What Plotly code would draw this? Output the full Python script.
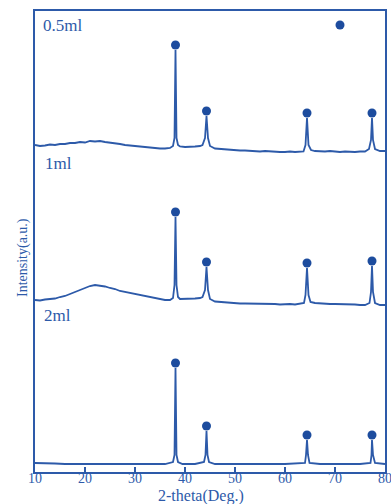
import plotly.graph_objects as go

# XRD patterns of the three samples (2-theta in degrees, intensity in a.u., stacked)
theta_05 = [10, 11, 12, 13, 14, 15, 16, 17, 18, 19, 20, 21, 22, 23, 24, 25, 26, 27, 28, 29, 30,
            31, 32, 33, 34, 35, 36, 37, 37.6, 37.9, 38.1, 38.3, 38.6, 39, 40, 41, 42, 43, 43.5,
            44.0, 44.3, 44.6, 45, 46, 47, 48, 49, 50, 51, 52, 53, 54, 55, 56, 57, 58, 59, 60,
            61, 62, 63, 63.7, 64.1, 64.4, 64.7, 65.2, 66, 67, 68, 69, 70, 71, 72, 73, 74, 75,
            76, 76.8, 77.2, 77.4, 77.6, 78, 79, 80]
inten_05 = [327, 326, 326.5, 327.5, 327, 328, 328, 329, 329, 330, 329.5, 331, 330.5, 331, 330,
            329.5, 328.5, 328, 327, 326.5, 326, 325, 325, 324.5, 324, 323.5, 323.5, 324, 326,
            334, 422, 334, 327, 325.5, 325, 325, 325.5, 326, 327, 334, 356, 334, 326, 323.5,
            323, 322.5, 322, 322, 321.5, 321.5, 321, 321, 320.5, 321, 320.5, 320.5, 320, 320,
            320.5, 320, 320, 320.5, 327, 354, 327, 322, 321, 320.5, 320.5, 321, 320.5, 320,
            320.5, 320, 320, 320.5, 320.5, 323, 332, 354, 332, 323, 321, 321]

theta_1 = [10, 11, 12, 13, 14, 15, 16, 17, 18, 19, 20, 21, 22, 23, 24, 25, 26, 27, 28, 29, 30,
           31, 32, 33, 34, 35, 36, 37, 37.6, 37.9, 38.1, 38.3, 38.6, 39, 40, 41, 42, 43, 43.5,
           44.0, 44.3, 44.6, 45, 46, 47, 48, 49, 50, 51, 52, 53, 54, 55, 56, 57, 58, 59, 60,
           61, 62, 63, 63.8, 64.1, 64.4, 64.7, 65.1, 66, 67, 68, 69, 70, 71, 72, 73, 74, 75,
           76, 76.9, 77.2, 77.4, 77.6, 78, 79, 80]
inten_1 = [172, 171.5, 172.5, 173, 173.5, 175, 176, 178, 180, 182, 184, 186, 187, 186.5, 185.5,
           184, 183, 181, 180, 179, 178, 177, 176, 175, 174, 172.5, 172, 172, 174, 187, 255,
           187, 175, 173, 173, 173.5, 173.5, 174, 175, 182, 205, 182, 173, 170.5, 170, 169.5,
           169, 169, 168.5, 168.5, 168.5, 168.5, 168, 168, 168.5, 168, 167.5, 168, 168, 167.5,
           168, 169, 177, 204, 177, 170, 169, 168.5, 168.5, 168, 168, 168, 168, 167.5, 167.5,
           167, 167, 169, 180, 206, 180, 169, 167, 167]

theta_2 = [10, 12, 14, 16, 20, 25, 30, 34, 36, 37.6, 37.9, 38.1, 38.3, 38.6, 39.5, 42, 43.8,
           44.1, 44.3, 44.5, 44.8, 46, 50, 55, 60, 64, 64.2, 64.4, 64.6, 64.9, 67, 70, 75,
           77.1, 77.3, 77.4, 77.6, 78, 80]
inten_2 = [9, 9, 8.5, 8, 8, 8, 8, 8, 8, 10, 17, 104, 17, 10, 8, 8, 10, 17, 41, 17, 10, 8, 8, 8,
           8, 9, 17, 32, 17, 9, 8, 8, 8, 9, 17, 32, 17, 9, 8]

# Reflection markers (peak positions and marker heights for each pattern)
peak_theta = [38.1, 44.3, 64.4, 77.4]
marker_05 = [427, 361, 359, 359]
marker_1 = [260, 210, 209, 211]
marker_2 = [109, 46, 37, 37]

sample_labels = ["0.5ml", "1ml", "2ml"]

BLUE = "#2d5aa9"
DOT = "#1d4c9e"
FONT = "Liberation Serif, Times New Roman, serif"

fig = go.Figure()
for th, it in [(theta_05, inten_05), (theta_1, inten_1), (theta_2, inten_2)]:
    fig.add_trace(go.Scatter(x=th, y=it, mode="lines", showlegend=False,
                             line=dict(color=BLUE, width=1.8)))
for mk in [marker_05, marker_1, marker_2]:
    fig.add_trace(go.Scatter(x=peak_theta, y=mk, mode="markers", showlegend=False,
                             marker=dict(color=DOT, size=9, symbol="circle")))
# legend key for the reflection markers
fig.add_trace(go.Scatter(x=[None], y=[None], mode="markers", name="",
                         marker=dict(color=DOT, size=9, symbol="circle")))

W, H = 391, 504
L, R, T, B = 35, 6, 11, 32
pw, ph = W - L - R, H - T - B

def px_x(p):
    return (p - L) / pw

def px_y(p):
    return (H - B - p) / ph

for text, x, y in [(sample_labels[0], 41, 25), (sample_labels[1], 43, 163), (sample_labels[2], 42, 315)]:
    fig.add_annotation(text=text, x=px_x(x), y=px_y(y), xref="paper", yref="paper",
                       xanchor="left", yanchor="middle", showarrow=False,
                       font=dict(family=FONT, size=17, color=BLUE))

fig.add_annotation(text="2-theta(Deg.)", x=px_x(201), y=px_y(496), xref="paper", yref="paper",
                   xanchor="center", yanchor="middle", showarrow=False,
                   font=dict(family=FONT, size=16, color=BLUE))
fig.add_annotation(text="Intensity(a.u.)", x=px_x(23), y=px_y(258), xref="paper", yref="paper",
                   xanchor="center", yanchor="middle", showarrow=False, textangle=-90,
                   font=dict(family=FONT, size=14, color=BLUE))

fig.update_layout(
    width=W, height=H,
    margin=dict(l=L, r=R, t=T, b=B, pad=0, autoexpand=False),
    paper_bgcolor="white", plot_bgcolor="white",
    showlegend=True,
    legend=dict(x=px_x(320), y=px_y(25), xanchor="left", yanchor="middle",
                bgcolor="rgba(0,0,0,0)", borderwidth=0, itemwidth=30,
                font=dict(family=FONT, size=12, color=BLUE)),
    font=dict(family=FONT, color=BLUE),
)
fig.update_xaxes(range=[10, 80], dtick=10, tick0=10, ticks="inside", ticklen=5, tickwidth=1.5,
                 tickcolor=BLUE, showline=True, linecolor=BLUE, linewidth=2, mirror=True,
                 showgrid=False, zeroline=False, automargin=False, ticklabelstandoff=-8,
                 ticklabeloverflow="allow",
                 tickfont=dict(family=FONT, size=14, color=BLUE))
fig.update_yaxes(range=[0, ph], showticklabels=False, ticks="", showline=True, linecolor=BLUE,
                 linewidth=2, mirror=True, showgrid=False, zeroline=False, automargin=False)

fig.write_html("out.html")
